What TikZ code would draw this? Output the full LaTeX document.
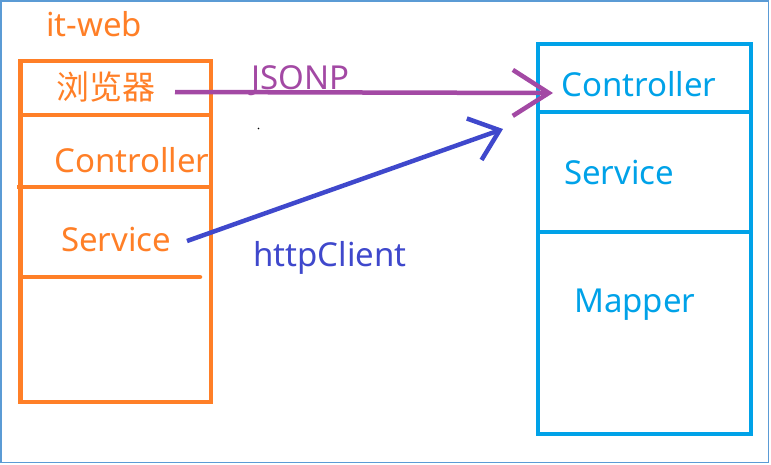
\documentclass[tikz,border=0pt]{standalone}
\usepackage{fontspec}
\setmainfont{Noto Sans}
\newfontfamily\cjk{Noto Sans CJK SC}
\usetikzlibrary{arrows.meta}
\definecolor{webOrange}{HTML}{FF7F27}
\definecolor{srvBlue}{HTML}{00A2E8}
\definecolor{jsonpPurple}{HTML}{A349A4}
\definecolor{clientBlue}{HTML}{3F48CC}
\definecolor{frameBlue}{HTML}{5B9BD5}
\tikzset{
	lbl/.style={anchor=base west, inner sep=0pt, font=\fontsize{33}{39}\selectfont},
	web/.style={webOrange, line width=4.5pt},
	srv/.style={srvBlue, line width=4.5pt},
	call/.style={line width=4.5pt, -{Straight Barb[length=#1, line width=4.5pt]}}
}

\begin{document}
\begin{tikzpicture}[x=1pt, y=-1pt]
	\useasboundingbox (0,0) rectangle (771,464);
	\draw[frameBlue, line width=1.5pt] (0.75,0.75) rectangle (768.5,462.5);
	% it-web side
	\node[lbl, webOrange] (itweb) at (46,36) {it-web};
	\draw[web] (20.5,61) rectangle (211,402);
	\draw[web] (20.5,115) -- (211,115);
	\draw[web] (17,187) -- (211,187);
	\draw[web, line cap=round] (20.5,277) -- (200,277);
	\node[lbl, webOrange] (browser) at (56,99) {\cjk 浏览器};
	\node[lbl, webOrange] (ctrlA) at (54,172) {Controller};
	\node[lbl, webOrange] (svcA) at (61,251) {Service};
	% service side
	\draw[srv] (538,44) rectangle (751,434);
	\draw[srv] (538,112) -- (751,112);
	\draw[srv] (538,232) -- (751,232);
	\node[lbl, srvBlue] (ctrlB) at (561,96) {Controller};
	\node[lbl, srvBlue] (svcB) at (564,184) {Service};
	\node[lbl, srvBlue] (mapB) at (574,312) {Mapper};
	% calls
	\coordinate (jsonpFrom) at (175,92);
	\coordinate (jsonpTo) at (553,93);
	\coordinate (clientFrom) at (187,241);
	\coordinate (clientTo) at (503,129);
	\draw[call={36pt, width=46pt}, jsonpPurple] (jsonpFrom) -- (jsonpTo);
	\draw[call={27pt, width=44pt}, clientBlue] (clientFrom) -- (clientTo);
	\node[lbl, jsonpPurple] (jsonp) at (251,89) {JSONP};
	\node[lbl, clientBlue] (client) at (253,266) {httpClient};
	\fill (258.5,128.5) circle (0.8);
\end{tikzpicture}
\end{document}
